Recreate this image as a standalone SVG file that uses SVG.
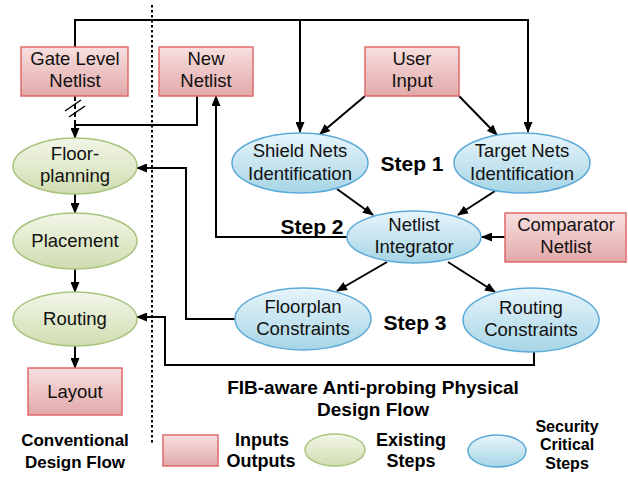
<svg xmlns="http://www.w3.org/2000/svg" width="628" height="477" viewBox="0 0 628 477">
<defs>
<linearGradient id="gRed" x1="0" y1="0" x2="0" y2="1"><stop offset="0" stop-color="#f8e0e0"/><stop offset="1" stop-color="#e2a8a8"/></linearGradient>
<linearGradient id="gGreen" x1="0" y1="0" x2="0" y2="1"><stop offset="0" stop-color="#f3f6e8"/><stop offset="1" stop-color="#cfddb0"/></linearGradient>
<linearGradient id="gBlue" x1="0" y1="0" x2="0" y2="1"><stop offset="0" stop-color="#e8f5fb"/><stop offset="1" stop-color="#a6d5e6"/></linearGradient>
<marker id="ah" markerUnits="userSpaceOnUse" markerWidth="11" markerHeight="9" refX="10" refY="4.5" orient="auto"><path d="M0,0 L11,4.5 L0,9 z" fill="#000"/></marker>
</defs>
<style>
.red{fill:url(#gRed);stroke:#e06a6a;stroke-width:1.5}
.green{fill:url(#gGreen);stroke:#a9c47e;stroke-width:1.5}
.blue{fill:url(#gBlue);stroke:#5caad8;stroke-width:1.5}
.t{font-family:"Liberation Sans",Arial,sans-serif;font-size:18.5px;fill:#111;text-anchor:middle}
.b{font-family:"Liberation Sans",Arial,sans-serif;font-weight:bold;fill:#000;text-anchor:middle}
.c{fill:none;stroke:#000;stroke-width:2}
.a{marker-end:url(#ah)}
</style>

<line x1="152" y1="5" x2="152" y2="443" stroke="#000" stroke-width="2" stroke-dasharray="2.5 2.5"/>

<g id="connectors">
<polyline class="c a" points="75,47 75,20 528,20 528,132"/>
<line class="c a" x1="300" y1="20" x2="300" y2="132"/>
<line x1="75" y1="96" x2="75" y2="125" stroke="#000" stroke-width="2" stroke-dasharray="5 3"/>
<line x1="65" y1="111" x2="81" y2="100" stroke="#000" stroke-width="1.5"/>
<line x1="69" y1="117" x2="85" y2="106" stroke="#000" stroke-width="1.5"/>
<polyline class="c a" points="197,96 197,125 75,125 75,138"/>
<line class="c a" x1="75" y1="194" x2="75" y2="213"/>
<line class="c a" x1="75" y1="269" x2="75" y2="292"/>
<line class="c a" x1="75" y1="346" x2="75" y2="368"/>
<line class="c a" x1="365" y1="96" x2="320" y2="134"/>
<line class="c a" x1="459" y1="96" x2="497" y2="135"/>
<line class="c a" x1="337" y1="189" x2="373" y2="215"/>
<line class="c a" x1="495" y1="191" x2="458" y2="215"/>
<line class="c a" x1="505" y1="237" x2="482" y2="237"/>
<polyline class="c a" points="347,237 216,237 216,96"/>
<line class="c a" x1="387" y1="262" x2="337" y2="291"/>
<line class="c a" x1="448" y1="262" x2="495" y2="292"/>
<polyline class="c a" points="235,319 186,319 186,168 137,168"/>
<polyline class="c a" points="534,352 534,365 165,365 165,317 137,317"/>
</g>

<g id="gate-level-netlist"><rect class="red" x="21" y="47" width="107" height="49"/><text class="t" x="75" y="65">Gate Level</text><text class="t" x="75" y="87">Netlist</text></g>
<g id="new-netlist"><rect class="red" x="159" y="47" width="94" height="49"/><text class="t" x="206" y="65">New</text><text class="t" x="206" y="87">Netlist</text></g>
<g id="user-input"><rect class="red" x="365" y="47" width="94" height="49"/><text class="t" x="412" y="65">User</text><text class="t" x="412" y="87">Input</text></g>
<g id="comparator-netlist"><rect class="red" x="505" y="213" width="121" height="49"/><text class="t" x="566" y="231">Comparator</text><text class="t" x="566" y="253">Netlist</text></g>
<g id="layout"><rect class="red" x="28" y="368" width="94" height="47"/><text class="t" x="75" y="398">Layout</text></g>

<g id="floor-planning"><ellipse class="green" cx="75" cy="166" rx="62" ry="28"/><text class="t" x="75" y="160">Floor-</text><text class="t" x="75" y="182">planning</text></g>
<g id="placement"><ellipse class="green" cx="75" cy="241" rx="62" ry="28"/><text class="t" x="75" y="247">Placement</text></g>
<g id="routing"><ellipse class="green" cx="75" cy="319" rx="62" ry="27"/><text class="t" x="75" y="325">Routing</text></g>

<g id="shield-nets"><ellipse class="blue" cx="300" cy="163" rx="68" ry="30"/><text class="t" x="300" y="157">Shield Nets</text><text class="t" x="300" y="180">Identification</text></g>
<g id="target-nets"><ellipse class="blue" cx="522" cy="163" rx="68" ry="30"/><text class="t" x="522" y="157">Target Nets</text><text class="t" x="522" y="180">Identification</text></g>
<g id="netlist-integrator"><ellipse class="blue" cx="414" cy="237" rx="67" ry="26"/><text class="t" x="414" y="231">Netlist</text><text class="t" x="414" y="253">Integrator</text></g>
<g id="floorplan-constraints"><ellipse class="blue" cx="303" cy="319" rx="68" ry="31"/><text class="t" x="303" y="313">Floorplan</text><text class="t" x="303" y="335">Constraints</text></g>
<g id="routing-constraints"><ellipse class="blue" cx="531" cy="320" rx="68" ry="32"/><text class="t" x="531" y="314">Routing</text><text class="t" x="531" y="336">Constraints</text></g>

<g id="labels">
<text class="b" x="412" y="171" font-size="21">Step 1</text>
<text class="b" x="312" y="234" font-size="21">Step 2</text>
<text class="b" x="415" y="330" font-size="21">Step 3</text>
<text class="b" x="373" y="394" font-size="19">FIB-aware Anti-probing Physical</text>
<text class="b" x="373" y="416" font-size="19">Design Flow</text>
<text class="b" x="75" y="446" font-size="17">Conventional</text>
<text class="b" x="75" y="468" font-size="17">Design Flow</text>
</g>

<g id="legend">
<rect class="red" x="163" y="435" width="55" height="31"/>
<text class="b" x="262" y="446" font-size="18">Inputs</text>
<text class="b" x="261" y="467" font-size="18">Outputs</text>
<ellipse class="green" cx="335" cy="450" rx="30" ry="16"/>
<text class="b" x="411" y="446" font-size="18">Existing</text>
<text class="b" x="411" y="467" font-size="18">Steps</text>
<ellipse class="blue" cx="497" cy="451" rx="29" ry="16"/>
<text class="b" x="567" y="431.5" font-size="16">Security</text>
<text class="b" x="567" y="450" font-size="16">Critical</text>
<text class="b" x="567" y="468.5" font-size="16">Steps</text>
</g>
</svg>
